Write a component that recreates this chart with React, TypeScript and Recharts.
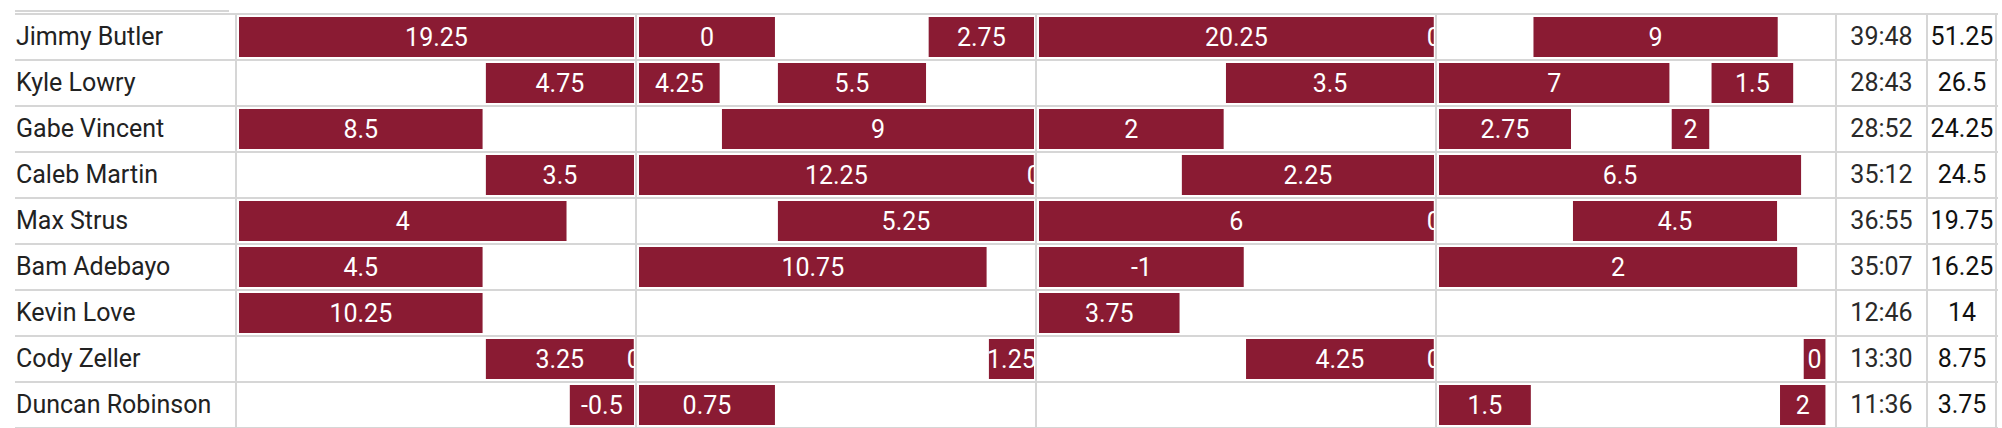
import React from "react";
import { BarChart, Bar, XAxis, YAxis, LabelList } from "recharts";

// start minute, end minute (within the quarter), value shown on the bar
type Stint = [number, number, number];

const players = [
  "Jimmy Butler",
  "Kyle Lowry",
  "Gabe Vincent",
  "Caleb Martin",
  "Max Strus",
  "Bam Adebayo",
  "Kevin Love",
  "Cody Zeller",
  "Duncan Robinson",
];
const minutes = ["39:48", "28:43", "28:52", "35:12", "36:55", "35:07", "12:46", "13:30", "11:36"];
const totals = [51.25, 26.5, 24.25, 24.5, 19.75, 16.25, 14, 8.75, 3.75];

// the "0" stints right at the buzzer are only a blink long
const q1: Stint[][] = [
  [[0, 12, 19.25]],
  [[7.5, 12, 4.75]],
  [[0, 7.4, 8.5]],
  [[7.5, 12, 3.5]],
  [[0, 9.95, 4]],
  [[0, 7.4, 4.5]],
  [[0, 7.4, 10.25]],
  [[7.5, 11.99, 3.25], [11.99, 12, 0]],
  [[10.05, 12, -0.5]],
];
const q2: Stint[][] = [
  [[0, 4.13, 0], [8.8, 12, 2.75]],
  [[0, 2.45, 4.25], [4.22, 8.72, 5.5]],
  [[2.52, 12, 9]],
  [[0, 11.99, 12.25], [11.99, 12, 0]],
  [[4.22, 12, 5.25]],
  [[0, 10.56, 10.75]],
  [],
  [[10.63, 12, 1.25]],
  [[0, 4.13, 0.75]],
];
const q3: Stint[][] = [
  [[0, 11.99, 20.25], [11.99, 12, 0]],
  [[5.68, 12, 3.5]],
  [[0, 5.61, 2]],
  [[4.34, 12, 2.25]],
  [[0, 11.99, 6], [11.99, 12, 0]],
  [[0, 6.22, -1]],
  [[0, 4.27, 3.75]],
  [[6.29, 11.99, 4.25], [11.99, 12, 0]],
  [],
];
const q4: Stint[][] = [
  [[2.87, 10.29, 9]],
  [[0, 7.0, 7], [8.28, 10.76, 1.5]],
  [[0, 4.01, 2.75], [7.07, 8.21, 2]],
  [[0, 11.0, 6.5]],
  [[4.07, 10.27, 4.5]],
  [[0, 10.88, 2]],
  [],
  [[11.08, 11.74, 0]],
  [[0, 2.79, 1.5], [10.36, 11.74, 2]],
];
const quarters = [q1, q2, q3, q4];

const SLOTS = 2;
const BAR = "#8a1b33";
const LINE = "#d6d6d6";
const FONT = "Roboto, sans-serif";

const LEFT = 236;
const QW = 400;
const TOP = 14;
const ROW_H = 46;
const H = ROW_H * players.length;

function buildRows(q: Stint[][]) {
  return players.map((name, i) => {
    const row: Record<string, any> = { name };
    let t = 0;
    for (let k = 0; k < SLOTS; k++) {
      const s = q[i][k];
      row[`gap${k}`] = s ? s[0] - t : 0;
      row[`len${k}`] = s ? s[1] - s[0] : 0;
      row[`val${k}`] = s ? s[2] : null;
      if (s) t = s[1];
    }
    return row;
  });
}

function QuarterChart({ q, idx }: { q: Stint[][]; idx: number }) {
  const rows = buildRows(q);
  const bars = [];
  for (let k = 0; k < SLOTS; k++) {
    bars.push(
      <Bar key={`g${k}`} dataKey={`gap${k}`} stackId="s" fill="transparent" barSize={40} isAnimationActive={false} />
    );
    bars.push(
      <Bar key={`b${k}`} dataKey={`len${k}`} stackId="s" fill={BAR} barSize={40} isAnimationActive={false}>
        <LabelList dataKey={`val${k}`} position="center" fill="#fff" fontSize={25} fontFamily={FONT} />
      </Bar>
    );
  }
  return (
    <div style={{ position: "absolute", left: LEFT + idx * QW + 3, top: TOP, width: 395, height: H, overflow: "hidden" }}>
      <BarChart layout="vertical" width={395} height={H} data={rows} margin={{ top: 0, right: 0, bottom: 0, left: 0 }} barSize={40}>
        <XAxis type="number" domain={[0, 12]} allowDataOverflow hide />
        <YAxis type="category" dataKey="name" hide />
        {bars}
      </BarChart>
    </div>
  );
}

const vLines = [236, 636, 1036, 1436, 1836, 1927, 1996];

export default function App() {
  const text: React.CSSProperties = {
    position: "absolute",
    height: ROW_H,
    lineHeight: `${ROW_H}px`,
    fontFamily: FONT,
    fontSize: 25,
    whiteSpace: "nowrap",
  };
  return (
    <div style={{ position: "absolute", left: 0, top: 0, width: 2002, height: 428, background: "#fff", overflow: "hidden" }}>
      <div style={{ position: "absolute", left: 15, top: 10, width: 214, height: 2, background: LINE }} />
      {Array.from({ length: players.length + 1 }, (_, i) => (
        <div key={`h${i}`} style={{ position: "absolute", left: 15, top: TOP - 1 + i * ROW_H, width: 1983, height: 2, background: LINE }} />
      ))}
      {vLines.map((x) => (
        <div key={`v${x}`} style={{ position: "absolute", left: x - 1, top: TOP - 1, width: 2, height: H + 2, background: LINE }} />
      ))}
      {quarters.map((q, i) => (
        <QuarterChart key={i} q={q} idx={i} />
      ))}
      {players.map((p, i) => (
        <div key={p} style={{ ...text, left: 16, top: TOP + i * ROW_H, color: "#222" }}>{p}</div>
      ))}
      {minutes.map((m, i) => (
        <div key={`m${i}`} style={{ ...text, left: 1837, width: 89, textAlign: "center", top: TOP + i * ROW_H, color: "#2a2a2a" }}>{m}</div>
      ))}
      {totals.map((t, i) => (
        <div key={`t${i}`} style={{ ...text, left: 1928, width: 68, textAlign: "center", top: TOP + i * ROW_H, color: "#111" }}>{t}</div>
      ))}
    </div>
  );
}
